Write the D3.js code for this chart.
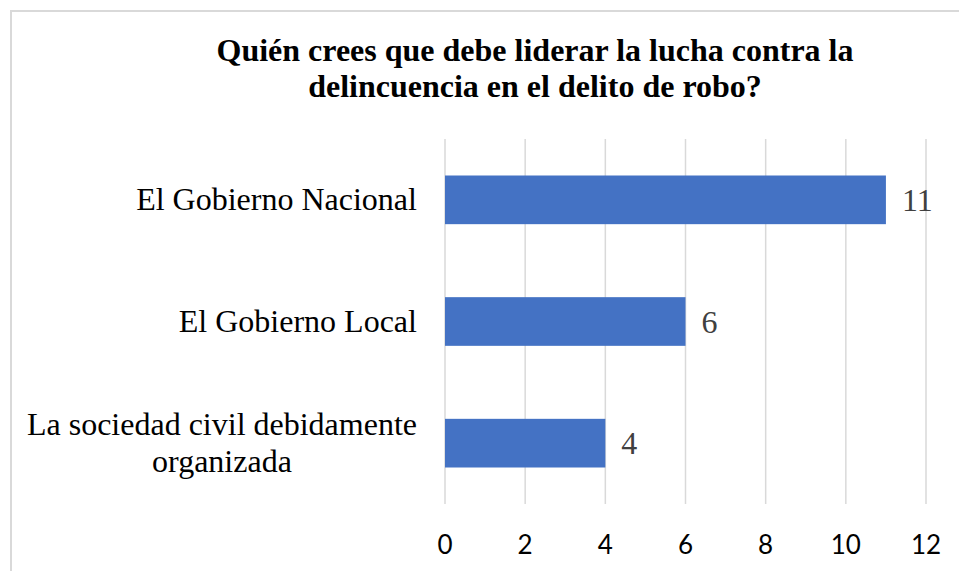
<!DOCTYPE html>
<html>
<head>
<meta charset="utf-8">
<script src="https://cdn.jsdelivr.net/npm/d3@7"></script>
<style>
  body { margin: 0; background: #fff; }
  svg { display: block; }
</style>
</head>
<body>
<div id="chart"></div>
<script>
// data
var categories = ["El Gobierno Nacional", "El Gobierno Local", "La sociedad civil debidamente|organizada"];
var values = [11, 6, 4];
var xTicks = [0, 2, 4, 6, 8, 10, 12];
var titleLines = ["Quién crees que debe liderar la lucha contra la", "delincuencia en el delito de robo?"];

var W = 959, H = 571;
var margin = {left: 445, right: 33, top: 139, bottom: 67};

var svg = d3.select("#chart").append("svg")
    .attr("width", W)
    .attr("height", H);

// outer chart border (runs off the right / bottom of the picture)
svg.append("rect")
    .attr("x", 11).attr("y", 11)
    .attr("width", W + 20).attr("height", H + 20)
    .attr("fill", "#fff")
    .attr("stroke", "#d9d9d9")
    .attr("stroke-width", 2);

var x = d3.scaleLinear()
    .domain([0, 12])
    .range([margin.left, W - margin.right]);

var y = d3.scaleBand()
    .domain(categories)
    .range([margin.top, H - margin.bottom])
    .paddingInner(0.6)
    .paddingOuter(0.3);

// gridlines
svg.append("g").selectAll("line")
    .data(xTicks)
    .enter().append("line")
    .attr("x1", function(d){ return x(d); })
    .attr("x2", function(d){ return x(d); })
    .attr("y1", margin.top)
    .attr("y2", H - margin.bottom)
    .attr("stroke", "#d9d9d9")
    .attr("stroke-width", 1.5);

// bars
svg.append("g").selectAll("rect")
    .data(values)
    .enter().append("rect")
    .attr("x", x(0))
    .attr("y", function(d, i){ return y(categories[i]); })
    .attr("width", function(d){ return x(d) - x(0); })
    .attr("height", y.bandwidth())
    .attr("fill", "#4472c4");

// value labels
svg.append("g").selectAll("text")
    .data(values)
    .enter().append("text")
    .attr("x", function(d){ return x(d) + 16; })
    .attr("y", function(d, i){ return y(categories[i]) + y.bandwidth() / 2; })
    .attr("dy", "0.35em")
    .style("font-family", "'Liberation Serif', 'Times New Roman', serif")
    .style("font-size", "32px")
    .style("fill", "#404040")
    .text(function(d){ return d; });

// category labels
var catG = svg.append("g");
categories.forEach(function(c){
    var lines = c.split("|");
    var cy = y(c) + y.bandwidth() / 2;
    var lh = 36.5;
    var t = catG.append("text")
        .attr("text-anchor", "middle")
        .style("font-family", "'Liberation Serif', 'Times New Roman', serif")
        .style("font-size", "32px")
        .style("fill", "#000");
    lines.forEach(function(l, i){
        t.append("tspan")
            .attr("x", 0)
            .attr("y", cy + (i - (lines.length - 1) / 2) * lh)
            .attr("dy", "0.33em")
            .text(l);
    });
    // right-align the block, centre lines inside it
    var bw = t.node().getBBox().width;
    t.attr("transform", "translate(" + (417 - bw / 2) + ",0)");
});

// x tick labels
svg.append("g").selectAll("text")
    .data(xTicks)
    .enter().append("text")
    .attr("x", function(d){ return x(d); })
    .attr("y", 554)
    .attr("text-anchor", "middle")
    .style("font-family", "Lato, 'Open Sans', sans-serif")
    .style("font-size", "26px")
    .style("fill", "#000")
    .text(function(d){ return d; });

// title
svg.append("g").selectAll("text")
    .data(titleLines)
    .enter().append("text")
    .attr("x", 535)
    .attr("y", function(d, i){ return 61 + i * 36; })
    .attr("text-anchor", "middle")
    .style("font-family", "'Liberation Serif', 'Times New Roman', serif")
    .style("font-weight", "bold")
    .style("font-size", "32px")
    .style("fill", "#000")
    .text(function(d){ return d; });
</script>
</body>
</html>
